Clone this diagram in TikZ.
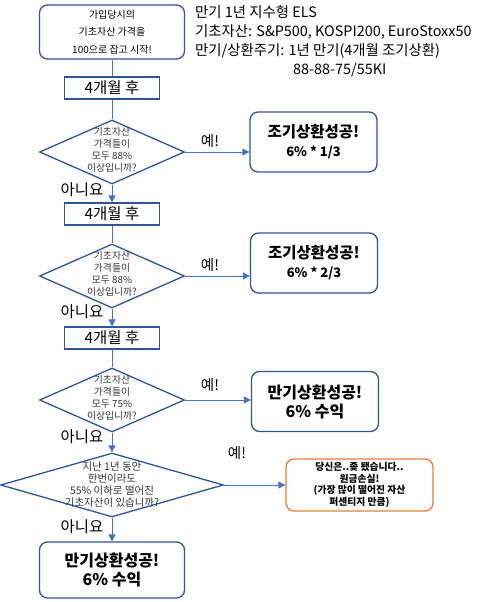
\documentclass[tikz,border=0pt]{standalone}
\usepackage{fontspec}
\setmainfont{Noto Sans CJK KR}
\usetikzlibrary{arrows.meta,shapes.geometric}
\definecolor{navy}{RGB}{47,85,151}
\definecolor{linie}{RGB}{68,114,196}
\definecolor{oranje}{RGB}{237,125,49}
\tikzset{
  startbox/.style={draw=navy, line width=1.3pt, rounded corners=8pt, align=center, minimum width=145pt, minimum height=54pt, inner sep=0pt, font=\fontsize{10}{17.5}\selectfont},
  waitbox/.style={draw=navy, line width=1.3pt, minimum width=95pt, minimum height=22pt, inner sep=0pt, font=\fontsize{15.5}{17}\selectfont},
  ask/.style={draw=navy, line width=1.3pt, diamond, minimum width=145pt, minimum height=64pt, inner sep=0pt},
  asktxt/.style={align=center, inner sep=0pt, font=\fontsize{9.8}{11.8}\selectfont, text=black!80},
  win/.style={draw=navy, line width=1.3pt, rounded corners=8pt, align=center, minimum width=127pt, minimum height=60pt, inner sep=0pt, font=\bfseries\fontsize{15.5}{19}\selectfont},
  lose/.style={win, draw=oranje, minimum width=147pt, minimum height=52pt, font=\bfseries\fontsize{9.8}{11.5}\selectfont},
  fl/.style={-{Triangle[length=7pt,width=7pt]}, linie, line width=0.9pt},
  ln/.style={linie, line width=0.9pt},
  yes/.style={inner sep=0pt, font=\fontsize{14.5}{14}\selectfont},
  no/.style={inner sep=0pt, font=\fontsize{15.5}{15}\selectfont},
}
\begin{document}
\begin{tikzpicture}[x=1pt,y=-1pt]
  \useasboundingbox (0,0) rectangle (480,602);
  % start and header
  \node[startbox] (start) at (112,32) {가입당시의\\기초자산 가격을\\100으로 잡고 시작!};
  \node[anchor=north west, inner sep=0pt, align=left, font=\fontsize{14.4}{19}\selectfont] (head) at (195,5)
    {만기 1년 지수형 ELS\\기초자산: S\&P500, KOSPI200, EuroStoxx50\\만기/상환주기: 1년 만기(4개월 조기상환)\\\hspace*{98pt}88-88-75/55KI};
  % first observation
  \node[waitbox] (w1) at (112,88) {4개월 후};
  \node[ask] (d1) at (112,152) {};
  \node[asktxt] (t1) at (112,150) {기초자산\\가격들이\\모두 88\%\\이상입니까?};
  \node[win] (r1) at (313.5,142) {조기상환성공!\\{\fontsize{13}{15}\selectfont 6\% * 1/3}};
  % second observation
  \node[waitbox] (w2) at (112,214) {4개월 후};
  \node[ask] (d2) at (112,276) {};
  \node[asktxt] (t2) at (112,274) {기초자산\\가격들이\\모두 88\%\\이상입니까?};
  \node[win] (r2) at (314,263) {조기상환성공!\\{\fontsize{13}{15}\selectfont 6\% * 2/3}};
  % maturity
  \node[waitbox] (w3) at (112,338) {4개월 후};
  \node[ask] (d3) at (112,400) {};
  \node[asktxt] (t3) at (112,398) {기초자산\\가격들이\\모두 75\%\\이상입니까?};
  \node[win, font=\bfseries\fontsize{16}{19}\selectfont] (r3) at (315,401.5) {만기상환성공!\\6\% 수익};
  \node[ask, minimum width=223pt] (d4) at (112,485) {};
  \node[asktxt, font=\fontsize{10.5}{12}\selectfont] (t4) at (112,485) {지난 1년 동안\\한번이라도\\55\% 이하로 떨어진\\기초자산이 있습니까?};
  \node[lose] (r4) at (359.5,485) {당신은..좆 됐습니다..\\원금손실!\\(가장 많이 떨어진 자산\\퍼센티지 만큼)};
  \node[win, minimum width=145pt, minimum height=56pt, font=\bfseries\fontsize{16}{19}\selectfont] (r5) at (112,570) {만기상환성공!\\6\% 수익};
  % connectors
  \draw[ln] (start) -- (w1);
  \draw[ln] (w1) -- (d1);
  \draw[fl] (d1.east) -- (d1.east -| r1.west);
  \draw[fl] (d1) -- (w2);
  \draw[ln] (w2) -- (d2);
  \draw[fl] (d2.east) -- (d2.east -| r2.west);
  \draw[fl] (d2) -- (w3);
  \draw[ln] (w3) -- (d3);
  \draw[fl] (d3.east) -- (d3.east -| r3.west);
  \draw[fl] (d3) -- (d4);
  \draw[fl] (d4) -- (r4);
  \draw[fl] (d4) -- (r5);
  % answers
  \node[yes] (y1) at (210,141) {예!};
  \node[yes] (y2) at (210,265) {예!};
  \node[yes] (y3) at (210,385) {예!};
  \node[yes] (y4) at (237,453) {예!};
  \node[no] (n1) at (82,190) {아니요};
  \node[no] (n2) at (82,312) {아니요};
  \node[no] (n3) at (82,437) {아니요};
  \node[no] (n4) at (82,527) {아니요};
\end{tikzpicture}
\end{document}
